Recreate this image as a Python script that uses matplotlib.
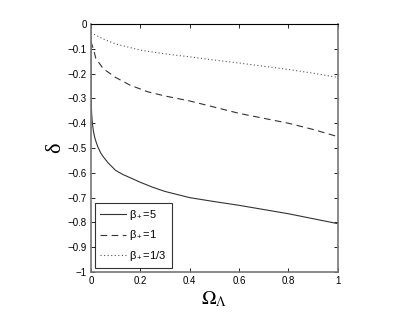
import matplotlib
matplotlib.use("Agg")
import matplotlib.pyplot as plt
import numpy as np

# Data
x_solid = [0.0, 0.0005, 0.001, 0.003, 0.006, 0.01, 0.015, 0.02, 0.028, 0.04, 0.05, 0.07, 0.1, 0.13, 0.16, 0.2, 0.25, 0.3, 0.4, 0.5, 0.6, 0.7, 0.8, 0.9, 1.0]
y_solid = [0.0, -0.2, -0.30, -0.36, -0.40, -0.43, -0.455, -0.472, -0.495, -0.52, -0.535, -0.56, -0.59, -0.607, -0.62, -0.638, -0.658, -0.675, -0.70, -0.716, -0.731, -0.748, -0.765, -0.785, -0.805]

x_dash = [0.0, 0.01, 0.02, 0.05, 0.1, 0.158, 0.23, 0.3, 0.4, 0.5, 0.6, 0.7, 0.8, 0.9, 1.0]
y_dash = [-0.07, -0.10, -0.138, -0.18, -0.215, -0.246, -0.273, -0.29, -0.31, -0.335, -0.36, -0.38, -0.40, -0.425, -0.454]

x_dot = [0.0, 0.05, 0.1, 0.2, 0.3, 0.4, 0.5, 0.6, 0.7, 0.8, 0.9, 1.0]
y_dot = [-0.035, -0.06, -0.08, -0.105, -0.12, -0.132, -0.145, -0.157, -0.17, -0.183, -0.198, -0.215]

labels = [r'$\beta_+$=5', r'$\beta_+$=1', r'$\beta_+$=1/3']
xticks = [0, 0.2, 0.4, 0.6, 0.8, 1]
yticks = [0, -0.1, -0.2, -0.3, -0.4, -0.5, -0.6, -0.7, -0.8, -0.9, -1]

plt.rcParams['font.family'] = ['Liberation Sans', 'DejaVu Sans']
plt.rcParams['mathtext.fontset'] = 'custom'
plt.rcParams['mathtext.rm'] = 'Liberation Sans'
plt.rcParams['mathtext.it'] = 'Liberation Sans'

fig = plt.figure(figsize=(4.15, 3.13), dpi=100)
ax = fig.add_axes([0.219, 0.131, 0.595, 0.792])

ax.plot(x_solid, y_solid, color='#333333', lw=0.8, ls='-', label=labels[0])
ax.plot(x_dash, y_dash, color='#333333', lw=0.8, ls=(0, (6, 4)), label=labels[1])
ax.plot(x_dot, y_dot, color='#555555', lw=0.8, ls=(0, (1, 2.2)), label=labels[2])

ax.set_xlim(0, 1)
ax.set_ylim(-1, 0)
ax.set_xticks(xticks)
ax.set_xticklabels(['0', '0.2', '0.4', '0.6', '0.8', '1'])
ax.set_yticks(yticks)
ax.set_yticklabels(['0', '\u22120.1', '\u22120.2', '\u22120.3', '\u22120.4', '\u22120.5',
                    '\u22120.6', '\u22120.7', '\u22120.8', '\u22120.9', '\u22121'])
ax.tick_params(direction='in', top=True, right=True, length=3, width=0.6, labelsize=7, pad=3)
for s in ['left', 'right', 'bottom']:
    ax.spines[s].set_color('#777777')
    ax.spines[s].set_linewidth(1.2)
ax.spines['top'].set_color('black')
ax.spines['top'].set_linewidth(0.8)

ax.set_xlabel(r'$\Omega_\Lambda$', fontsize=14, labelpad=2, math_fontfamily='stix')
ax.set_ylabel('\u03b4', fontsize=16, fontfamily=['Liberation Serif', 'DejaVu Serif'], labelpad=2)

leg = ax.legend(loc='lower left', fontsize=8, frameon=True, fancybox=False,
                edgecolor='black', handlelength=2.3, handletextpad=0.3,
                borderaxespad=0.35, labelspacing=0.55, borderpad=0.5)
leg.get_frame().set_linewidth(0.8)

fig.savefig('out.png', dpi=100)
